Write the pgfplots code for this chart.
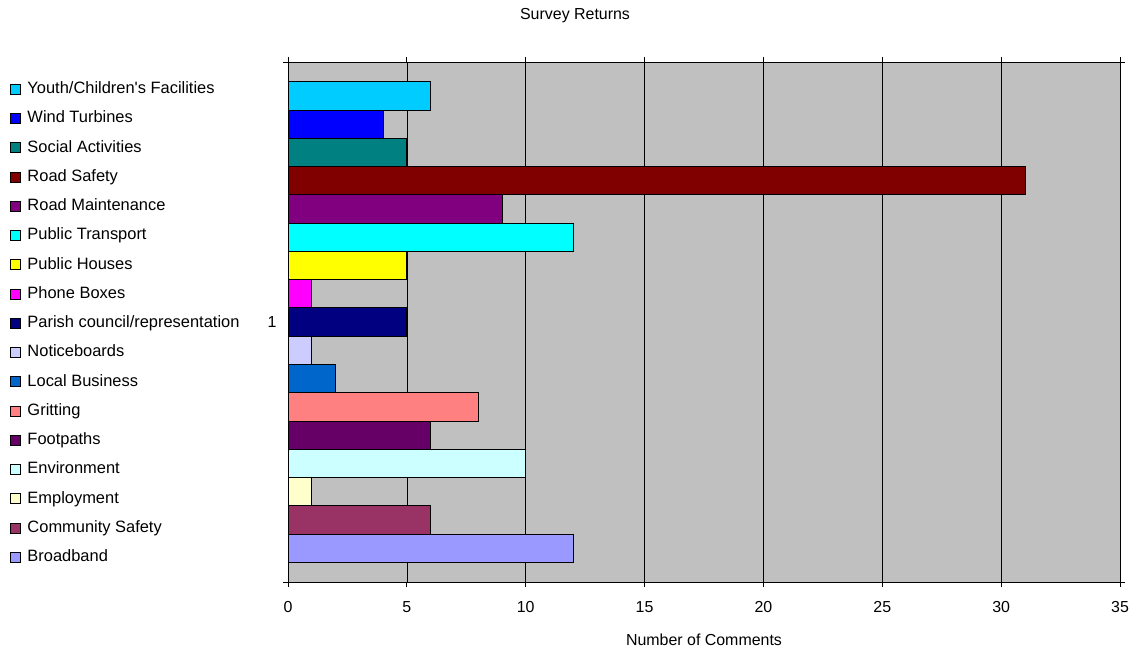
\documentclass[border=0pt]{standalone}
\usepackage{fontspec}
\setmainfont{Liberation Sans}[Ligatures=TeXOff]
\usepackage{pgfplots}
\pgfplotsset{compat=1.18}
\definecolor{cYouth}{HTML}{00CCFF}
\definecolor{cWind}{HTML}{0000FF}
\definecolor{cSocial}{HTML}{008080}
\definecolor{cRoadS}{HTML}{800000}
\definecolor{cRoadM}{HTML}{800080}
\definecolor{cPT}{HTML}{00FFFF}
\definecolor{cPH}{HTML}{FFFF00}
\definecolor{cPhone}{HTML}{FF00FF}
\definecolor{cParish}{HTML}{000080}
\definecolor{cNotice}{HTML}{CCCCFF}
\definecolor{cLocal}{HTML}{0066CC}
\definecolor{cGrit}{HTML}{FF8080}
\definecolor{cFoot}{HTML}{660066}
\definecolor{cEnv}{HTML}{CCFFFF}
\definecolor{cEmp}{HTML}{FFFFCC}
\definecolor{cComm}{HTML}{993366}
\definecolor{cBroad}{HTML}{9999FF}
\definecolor{plotbg}{HTML}{C0C0C0}
\begin{document}
\fontsize{16}{18}\selectfont
\begin{tikzpicture}
\useasboundingbox (0,0) rectangle (1139bp,651bp);
\begin{axis}[
  at={(288bp,69bp)}, anchor=south west,
  scale only axis, width=832bp, height=520bp,
  xmin=0, xmax=35, ymin=-0.2, ymax=18.2,
  xtick={0,5,...,35},
  ytick={-0.2,18.2}, yticklabels={},
  extra y ticks={9}, extra y tick labels={1},
  extra y tick style={major tick length=0pt, yticklabel style={anchor=center, xshift=-16bp}},
  tick align=outside, major tick length=5bp,
  tick style={black, line width=0.8pt},
  xmajorgrids, grid style={black, line width=0.7pt},
  axis line style={black, line width=0.8pt},
  axis background/.style={fill=plotbg},
  /pgf/number format/assume math mode=true,
  ticklabel style={font=\fontsize{16}{18}\selectfont},
  xticklabel style={anchor=center, yshift=-20bp},
  title={Survey Returns},
  title style={at={(0.345,1)}, anchor=center, yshift=40bp, font=\fontsize{16}{18}\selectfont},
  xlabel={Number of Comments},
  xlabel style={at={(0.5,0)}, anchor=center, yshift=-58bp, font=\fontsize{16}{18}\selectfont},
  xbar, bar width=1, bar shift=0pt,
  every axis plot/.append style={draw=black, line width=0.8pt},
  legend image code/.code={\draw[#1,draw=black,line width=0.8pt] (0bp,-4bp) rectangle (10bp,6bp);},
  legend cell align=left,
  legend style={draw=none, fill=none, at={(-0.33413,0.9606)}, anchor=north west, inner sep=0pt,
    row sep=14.25bp, column sep=0pt,
    font=\fontsize{16.5}{18}\selectfont,
    nodes={inner sep=0pt, text height=11bp, text depth=4bp},
    /tikz/every odd column/.append style={column sep=6.5bp}},
]
\addplot[fill=cYouth] coordinates {(6,17)};
\addplot[fill=cWind] coordinates {(4,16)};
\addplot[fill=cSocial] coordinates {(5,15)};
\addplot[fill=cRoadS] coordinates {(31,14)};
\addplot[fill=cRoadM] coordinates {(9,13)};
\addplot[fill=cPT] coordinates {(12,12)};
\addplot[fill=cPH] coordinates {(5,11)};
\addplot[fill=cPhone] coordinates {(1,10)};
\addplot[fill=cParish] coordinates {(5,9)};
\addplot[fill=cNotice] coordinates {(1,8)};
\addplot[fill=cLocal] coordinates {(2,7)};
\addplot[fill=cGrit] coordinates {(8,6)};
\addplot[fill=cFoot] coordinates {(6,5)};
\addplot[fill=cEnv] coordinates {(10,4)};
\addplot[fill=cEmp] coordinates {(1,3)};
\addplot[fill=cComm] coordinates {(6,2)};
\addplot[fill=cBroad] coordinates {(12,1)};
\legend{Youth/Children's Facilities, Wind Turbines, Social Activities, Road Safety, Road Maintenance, Public Transport, Public Houses, Phone Boxes, Parish council/representation, Noticeboards, Local Business, Gritting, Footpaths, Environment, Employment, Community Safety, Broadband}
\end{axis}
\end{tikzpicture}
\end{document}
